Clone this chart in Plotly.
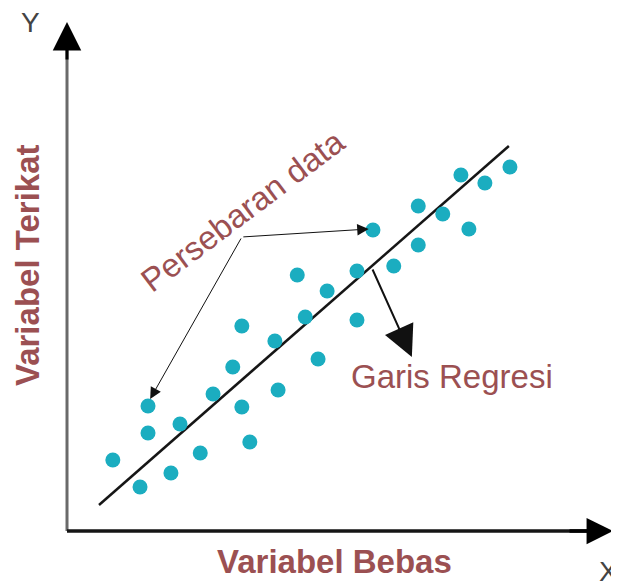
import plotly.graph_objects as go

# ---- data (abstract units) ----
x_vals = [0.86, 1.37, 1.52, 1.52, 1.95, 2.12, 2.50, 2.74, 3.11, 3.28, 3.28, 3.43, 3.90, 3.96, 4.32,
          4.47, 4.71, 4.88, 5.44, 5.44, 5.74, 6.13, 6.59, 6.59, 7.05, 7.39, 7.54, 7.84, 8.31]
y_vals = [1.42, 0.88, 2.50, 1.96, 1.16, 2.14, 1.56, 2.74, 3.28, 4.10, 2.48, 1.78, 3.80, 2.82, 5.12,
          4.28, 3.44, 4.80, 5.20, 4.22, 6.02, 5.30, 6.50, 5.72, 6.34, 7.12, 6.04, 6.96, 7.28]
reg_x = [0.60, 8.29]
reg_y = [0.52, 7.70]

label_y = "Variabel Terikat"
label_x = "Variabel Bebas"
label_scatter = "Persebaran data"
label_reg = "Garis Regresi"

TEXT = "#9b5052"
DOT = "#1badc0"
FONT = "Liberation Sans, Arial, sans-serif"

fig = go.Figure()
fig.add_trace(go.Scatter(x=reg_x, y=reg_y, mode="lines",
                         line=dict(color="#161616", width=2.5), hoverinfo="skip"))
fig.add_trace(go.Scatter(x=x_vals, y=y_vals, mode="markers",
                         marker=dict(size=15, color=DOT, line=dict(width=0))))

# axes lines
fig.add_shape(type="line", x0=0, y0=0, x1=0, y1=9.7, line=dict(color="#6a6a6a", width=3))
fig.add_shape(type="line", x0=0, y0=0, x1=9.8, y1=0, line=dict(color="#151515", width=3.5))

ann = []
# axis arrowheads
ann.append(dict(x=0, y=10.18, ax=0, ay=9.4, xref="x", yref="y", axref="x", ayref="y",
                showarrow=True, arrowhead=2, arrowwidth=3, arrowsize=1.9, arrowcolor="#000", text=""))
ann.append(dict(x=10.24, y=0, ax=9.4, ay=0, xref="x", yref="y", axref="x", ayref="y",
                showarrow=True, arrowhead=2, arrowwidth=3.5, arrowsize=1.5, arrowcolor="#000", text=""))
# scatter pointer arrows
elbow = (3.28, 5.88)
ann.append(dict(x=5.66, y=6.04, ax=elbow[0], ay=elbow[1], xref="x", yref="y", axref="x", ayref="y",
                showarrow=True, arrowhead=2, arrowwidth=1, arrowsize=2.3, arrowcolor="#111", text=""))
ann.append(dict(x=1.56, y=2.64, ax=elbow[0], ay=elbow[1], xref="x", yref="y", axref="x", ayref="y",
                showarrow=True, arrowhead=2, arrowwidth=1, arrowsize=2.3, arrowcolor="#111", text=""))
# regression pointer arrow
ann.append(dict(x=6.47, y=3.48, ax=5.72, ay=5.26, xref="x", yref="y", axref="x", ayref="y",
                showarrow=True, arrowhead=2, arrowwidth=2, arrowsize=3.1, arrowcolor="#111", text=""))

# texts
ann.append(dict(x=-0.694, y=10.18, xref="x", yref="y", text="Y", showarrow=False,
                font=dict(family=FONT, size=28, color="#444")))
ann.append(dict(x=10.15, y=-0.80, xref="x", yref="y", text="X", showarrow=False,
                font=dict(family=FONT, size=28, color="#444")))
ann.append(dict(x=-0.75, y=5.32, xref="x", yref="y", text="<b>%s</b>" % label_y, showarrow=False,
                textangle=-90, font=dict(family=FONT, size=33, color=TEXT)))
ann.append(dict(x=5.01, y=-0.60, xref="x", yref="y", text="<b>%s</b>" % label_x, showarrow=False,
                font=dict(family=FONT, size=33, color=TEXT)))
ann.append(dict(x=7.22, y=3.10, xref="x", yref="y", text=label_reg, showarrow=False,
                font=dict(family=FONT, size=33, color=TEXT)))
ann.append(dict(x=3.30, y=6.42, xref="x", yref="y", text=label_scatter, showarrow=False,
                textangle=-37, font=dict(family=FONT, size=33, color=TEXT)))

# page body has an 8px margin: the figure spans screen px 8..619 / 8..586
fig.update_layout(
    width=611, height=578,
    margin=dict(l=0, r=0, t=0, b=0),
    paper_bgcolor="white", plot_bgcolor="white",
    showlegend=False,
    annotations=ann,
    xaxis=dict(range=[-1.107, 10.356], visible=False, fixedrange=True),
    yaxis=dict(range=[-1.1, 10.46], visible=False, fixedrange=True),
)

fig.write_html("out.html")
